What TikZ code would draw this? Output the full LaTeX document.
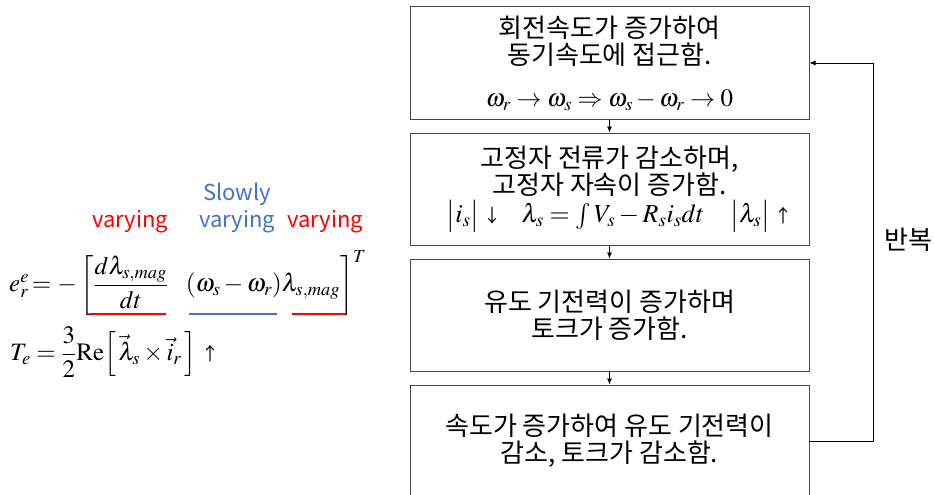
\documentclass[tikz,border=0pt]{standalone}
\usepackage{amsmath}
\usepackage{mathptmx}
\usepackage[no-math]{fontspec}
\setmainfont{Noto Sans CJK KR}
\usetikzlibrary{arrows.meta, positioning}
\definecolor{framegray}{RGB}{70, 70, 70}
\definecolor{hotred}{RGB}{255, 0, 0}
\definecolor{softblue}{RGB}{68, 114, 196}

\begin{document}
\begin{tikzpicture}[
    x=1pt, y=-1pt,
    box/.style={rectangle, draw=framegray, line width=1pt, minimum width=399pt, minimum height=112pt, inner sep=0pt, align=center, font=\fontsize{26}{27}\selectfont},
    tag/.style={font=\fontsize{22}{24}\selectfont, inner sep=0pt, anchor=base},
    eqn/.style={anchor=west, inner sep=0pt, font=\fontsize{25}{30}\selectfont},
    flow/.style={draw, -{Latex[length=6pt, width=5pt]}, line width=0.8pt},
    under/.style={line width=1.3pt}
  ]
    \useasboundingbox (0,0) rectangle (934,495);

    % flow chart
    \node (speed) [box] at (609.5,63) {회전속도가 증가하여\\동기속도에 접근함.\\[15pt]{\fontsize{25}{30}\selectfont $\omega_r \to \omega_s \Rightarrow \omega_s - \omega_r \to 0$}};
    \node (flux) [box, below=13pt of speed] {고정자 전류가 감소하며,\\고정자 자속이 증가함.\\[1pt]{\fontsize{26}{30}\selectfont \hspace{20pt}$\bigl|i_s\bigr|$\,{\fontsize{18}{20}\selectfont ↓}\hspace{20pt}$\lambda_s = \int V_s - R_s i_s dt$\hspace{26pt}$\bigl|\lambda_s\bigr|$\,{\fontsize{18}{20}\selectfont ↑}}};
    \node (emfup) [box, below=13pt of flux] {유도 기전력이 증가하며\\토크가 증가함.};
    \node (emfdown) [box, below=13pt of emfup] {속도가 증가하여 유도 기전력이\\감소, 토크가 감소함.};
    \coordinate (loop) at (873,250);
    \node (repeat) [font=\fontsize{26}{27}\selectfont, inner sep=0pt] at (908,240) {반복};

    \draw[flow] (speed) -- (flux);
    \draw[flow] (flux) -- (emfup);
    \draw[flow] (emfup) -- (emfdown);
    \draw[flow] (emfdown.east) -- (emfdown.east -| loop) |- (speed.east);

    % equations
    \node (slowly) [tag, text=softblue] at (237,200) {Slowly};
    \node (vary1) [tag, text=hotred] at (130,227) {varying};
    \node (vary2) [tag, text=softblue] at (237,227) {varying};
    \node (vary3) [tag, text=hotred] at (325,227) {varying};
    \node (emf) [eqn] at (9,283) {$e_r^e \mskip2mu{=}\mskip2mu -\left[\dfrac{d\lambda_{s,mag}}{dt}\hspace{18pt}(\omega_s-\omega_r)\lambda_{s,mag}\right]^T$};
    \node (torque) [eqn] at (10,352) {$T_e = \dfrac{3}{2}\mathrm{Re}\Bigl[\,\vec{\lambda}_s \times \vec{i}_r\,\Bigr]$\ {\fontsize{18}{20}\selectfont ↑}};
    \draw[under, draw=hotred] (90,314) -- (166,314);
    \draw[under, draw=softblue] (189,314) -- (277,314);
    \draw[under, draw=hotred] (292,314) -- (345,314);
\end{tikzpicture}
\end{document}
